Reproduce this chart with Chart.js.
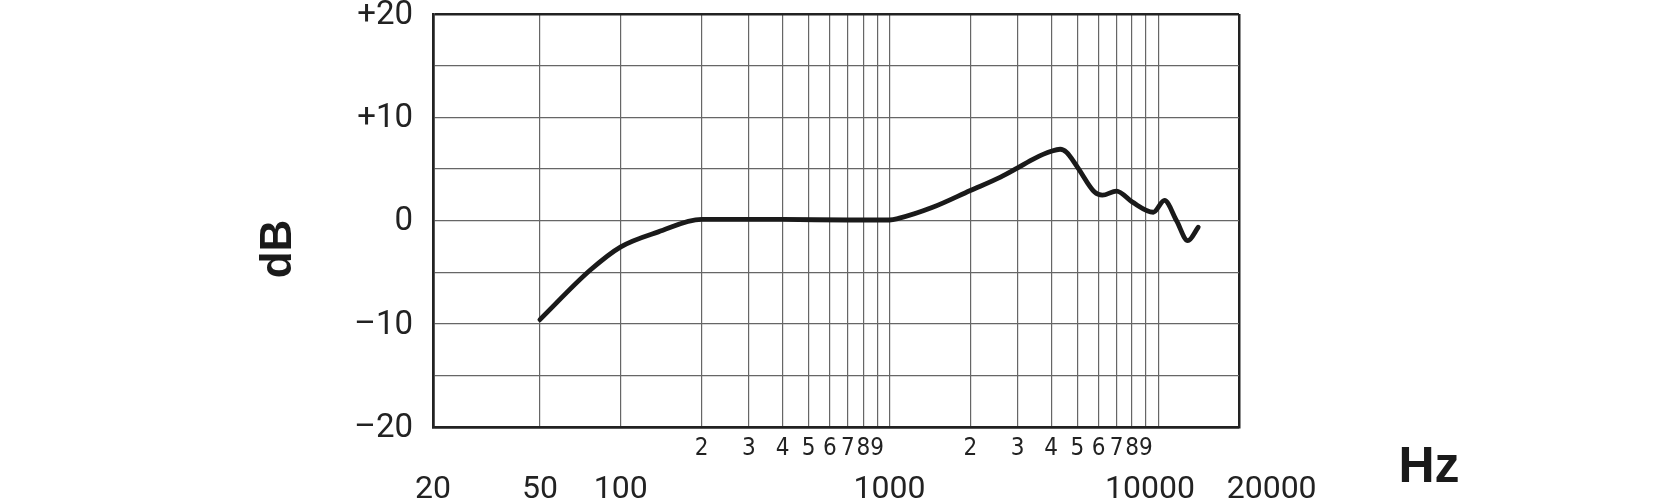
<!DOCTYPE html>
<html>
<head>
<meta charset="utf-8">
<script src="https://cdn.jsdelivr.net/npm/chart.js@4"></script>
<style>
  html, body { margin: 0; padding: 0; background: #fff; }
  #wrap { width: 1674px; height: 500px; }
</style>
</head>
<body>
<div id="wrap"><canvas id="chartResp" width="1674" height="500"></canvas></div>
<script>
// --- data ---
const freqs = [50, 77, 100, 138, 200, 400, 700, 1000, 1080, 1440, 2000, 2590, 3000, 3460, 4000, 4320, 4560, 5000, 5800, 6200, 7000, 8000, 9600, 10560, 11700, 12900, 14100];
const dbs   = [-9.6, -4.8, -2.55, -1.1, 0.1, 0.1, 0.05, 0.05, 0.2, 1.25, 2.9, 4.2, 5.1, 6.0, 6.7, 6.9, 6.6, 5.2, 2.75, 2.45, 2.85, 1.8, 0.8, 1.95, 0.0, -1.95, -0.65];

// grid / tick positions
const gridFreqs = [20, 50, 100, 200, 300, 400, 500, 600, 700, 800, 900, 1000,
                   2000, 3000, 4000, 5000, 6000, 7000, 8000, 9000, 10000, 20000];
const decadeLabels = [20, 50, 100, 1000, 10000, 20000];
const decadeText = { 20: '20', 50: '50', 100: '100', 1000: '1000', 10000: '10000\u2002', 20000: '\u2003\u200320000' };
const dbTicks = [-20, -15, -10, -5, 0, 5, 10, 15, 20];
const dbLabels = { '20': '+20', '10': '+10', '0': '0', '-10': '\u201310', '-20': '\u201320' };

const BORDER = '#222';
const GRID = '#666';

function minorLabel(v) {
    const m = v / Math.pow(10, Math.floor(Math.log10(v) + 1e-9));
    if (v < 200 || v > 10000) return '';
    if (Math.abs(m - 1) < 1e-6) return '';
    return String(Math.round(m));
}

function noPad(s) {
    s.paddingTop = 0; s.paddingBottom = 0;
    s.paddingLeft = 0; s.paddingRight = 0;
}

// --- axis names drawn by hand (dB on the left, Hz bottom right) ---
const unitLabels = {
    id: 'unitLabels',
    afterDraw(chart) {
        const ctx = chart.ctx;
        ctx.save();
        ctx.fillStyle = '#1a1a1a';
        ctx.font = 'bold 44px "Liberation Sans", Arial, sans-serif';
        ctx.textAlign = 'center';
        ctx.textBaseline = 'middle';
        ctx.translate(279, 249);
        ctx.rotate(-Math.PI / 2);
        ctx.fillText('dB', 0, 0);
        ctx.restore();

        ctx.save();
        ctx.fillStyle = '#1a1a1a';
        ctx.font = 'bold 50px "Liberation Sans", Arial, sans-serif';
        ctx.textAlign = 'center';
        ctx.textBaseline = 'alphabetic';
        ctx.fillText('Hz', 1429, 482);
        ctx.restore();
    }
};

const ctx = document.getElementById('chartResp').getContext('2d');
const chart = new Chart(ctx, {
    type: 'line',
    data: {
        datasets: [{
            data: freqs.map((f, i) => ({ x: f, y: dbs[i] })),
            borderColor: '#1a1a1a',
            borderWidth: 4.8,
            pointRadius: 0,
            fill: false,
            cubicInterpolationMode: 'monotone',
            borderCapStyle: 'round',
            borderJoinStyle: 'round'
        }]
    },
    options: {
        responsive: false,
        animation: false,
        layout: { padding: { left: 0, right: 435, top: 14, bottom: 0 } },
        plugins: { legend: { display: false }, tooltip: { enabled: false } },
        scales: {
            x: {
                type: 'logarithmic',
                position: 'bottom',
                min: 20, max: 20000,
                weight: 0,
                afterBuildTicks: s => { s.ticks = gridFreqs.map(v => ({ value: v })); },
                afterFit: s => { s.height = 40; noPad(s); },
                border: { display: true, color: BORDER, width: 2.5 },
                grid: {
                    drawTicks: false,
                    color: c => (c.tick && (c.tick.value === 20 || c.tick.value === 20000)) ? BORDER : GRID,
                    lineWidth: c => (c.tick && (c.tick.value === 20 || c.tick.value === 20000)) ? 2.5 : 1.2
                },
                ticks: {
                    autoSkip: false,
                    maxRotation: 0,
                    padding: 7,
                    color: '#222',
                    font: { family: '"Liberation Sans Narrow", "DejaVu Sans Condensed", Roboto, sans-serif', size: 24 },
                    callback: v => minorLabel(v)
                }
            },
            x2: {
                type: 'logarithmic',
                position: 'bottom',
                min: 20, max: 20000,
                weight: 1,
                afterBuildTicks: s => { s.ticks = decadeLabels.map(v => ({ value: v })); },
                afterFit: s => { s.height = 33; noPad(s); },
                border: { display: false },
                grid: { display: false, drawTicks: false },
                ticks: {
                    autoSkip: false,
                    maxRotation: 0,
                    padding: 4,
                    color: '#222',
                    font: { family: 'Roboto, "Noto Sans", sans-serif', size: 32, weight: 'normal' },
                    callback: v => decadeText[v] || String(v)
                }
            },
            y: {
                type: 'linear',
                position: 'left',
                min: -20, max: 20,
                afterBuildTicks: s => { s.ticks = dbTicks.map(v => ({ value: v })); },
                afterFit: s => { s.width = 433; noPad(s); },
                border: { display: true, color: BORDER, width: 2.5 },
                grid: {
                    drawTicks: false,
                    color: c => (c.tick && Math.abs(c.tick.value) === 20) ? BORDER : GRID,
                    lineWidth: c => (c.tick && Math.abs(c.tick.value) === 20) ? 2.5 : 1.2
                },
                ticks: {
                    autoSkip: false,
                    padding: 20,
                    labelOffset: 1.5,
                    color: '#222',
                    font: { family: 'Roboto, "Noto Sans", sans-serif', size: 33, weight: 'normal' },
                    callback: v => dbLabels[String(v)] || ''
                }
            }
        }
    },
    plugins: [unitLabels]
});
</script>
</body>
</html>
